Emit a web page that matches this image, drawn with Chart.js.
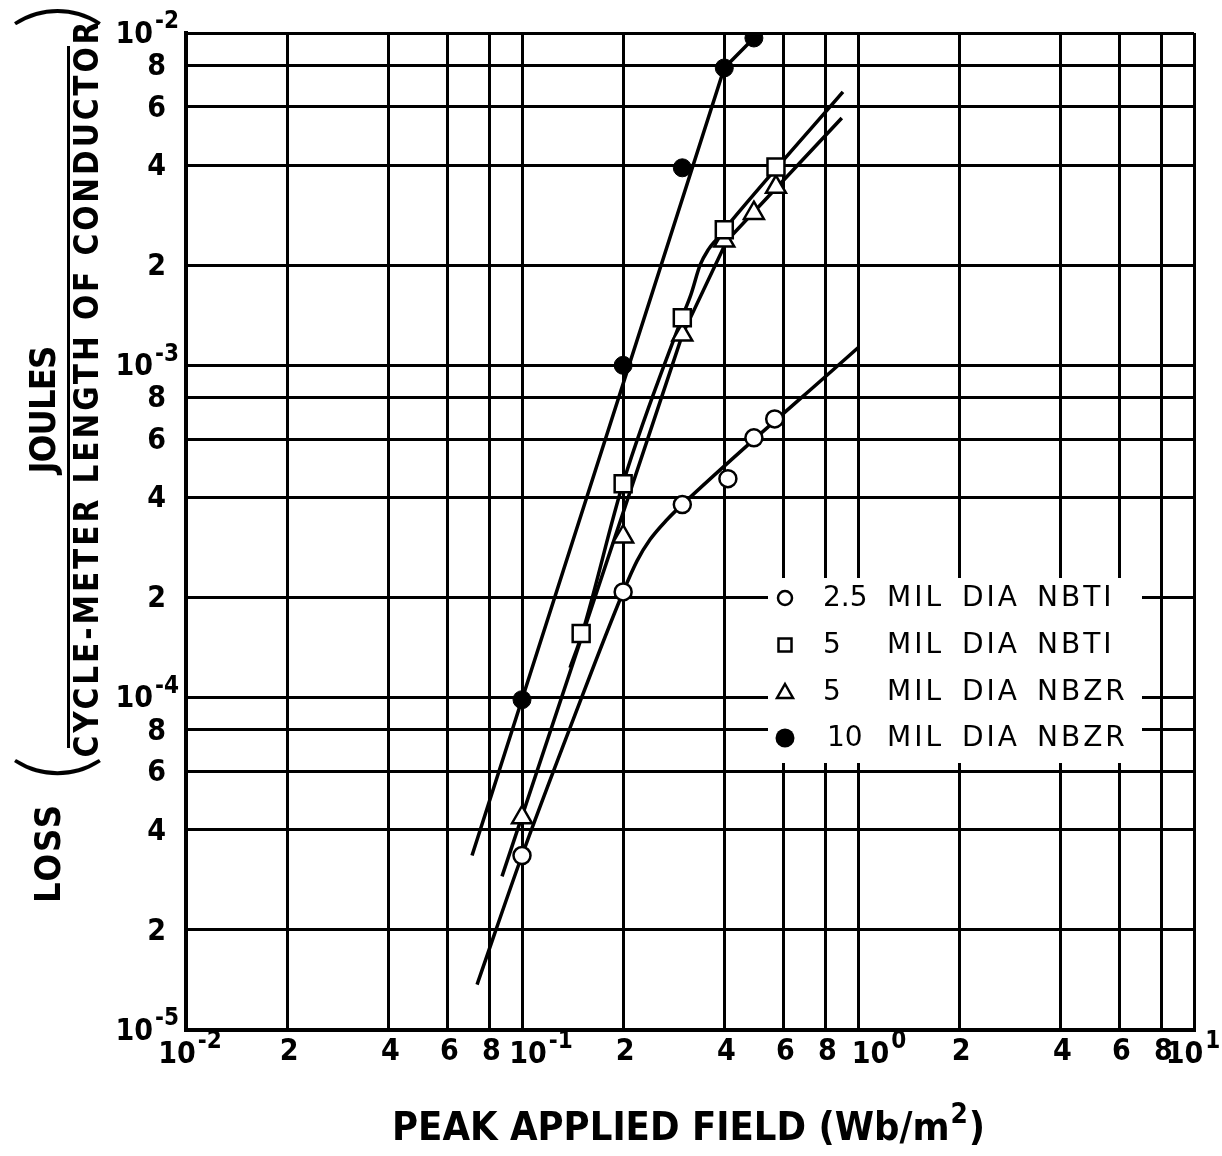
<!doctype html>
<html lang="en">
<head>
    <meta charset="utf-8">
    <title>Loss vs Peak Applied Field</title>
    <script src="https://cdn.jsdelivr.net/npm/chart.js"></script>
    <style>
        html, body { margin: 0; padding: 0; background: #fff; }
    </style>
</head>
<body>
<canvas id="lossChart" width="1222" height="1156"></canvas>
<script>
    var nbti25X = [0.1, 0.2, 0.3, 0.41, 0.49, 0.565];
    var nbti25Y = [3.35e-5, 2.08e-4, 3.81e-4, 4.56e-4, 6.05e-4, 6.9e-4];
    var nbti5X = [0.15, 0.2, 0.3, 0.4, 0.57];
    var nbti5Y = [1.56e-4, 4.4e-4, 1.39e-3, 2.56e-3, 3.95e-3];
    var nbzr5X = [0.1, 0.2, 0.3, 0.4, 0.49, 0.57];
    var nbzr5Y = [4.36e-5, 3.05e-4, 1.235e-3, 2.37e-3, 2.87e-3, 3.44e-3];
    var nbzr10X = [0.1, 0.2, 0.3, 0.4, 0.49];
    var nbzr10Y = [9.86e-5, 1e-3, 3.93e-3, 7.85e-3, 9.66e-3];

    // hand drawn curves through the points
    var curve25X = [0.0735, 0.1, 0.142, 0.2, 0.22, 0.2405, 0.27, 0.3, 1.0];
    var curve25Y = [1.37e-5, 3.35e-5, 8.59e-5, 2.08e-4, 2.58e-4, 2.99e-4, 3.43e-4, 3.81e-4, 1.13e-3];
    var curveNbti5X = [0.139, 0.151, 0.2, 0.3, 0.318, 0.339, 0.358, 0.38, 0.399, 0.902];
    var curveNbti5Y = [1.23e-4, 1.56e-4, 4.43e-4, 1.40e-3, 1.63e-3, 2.005e-3, 2.225e-3, 2.4e-3, 2.555e-3, 6.65e-3];
    var curveNbzr5X = [0.0872, 0.3, 0.407, 0.895];
    var curveNbzr5Y = [2.9e-5, 1.235e-3, 2.37e-3, 5.55e-3];
    var curveNbzr10X = [0.071, 0.4, 0.49];
    var curveNbzr10Y = [3.35e-5, 7.85e-3, 9.66e-3];

    // grid / tick values and labels ([base, superscript])
    var xTicks = [0.01, 0.02, 0.04, 0.06, 0.08, 0.1, 0.2, 0.4, 0.6, 0.8, 1, 2, 4, 6, 8, 10];
    var xLabels = [['10', '-2'], ['2'], ['4'], ['6'], ['8'], ['10', '-1'], ['2'], ['4'], ['6'], ['8'],
        ['10', '0'], ['2'], ['4'], ['6'], ['8'], ['10', '1']];
    var yTicks = [1e-5, 2e-5, 4e-5, 6e-5, 8e-5, 1e-4, 2e-4, 4e-4, 6e-4, 8e-4, 1e-3, 2e-3, 4e-3, 6e-3, 8e-3, 1e-2];
    var yLabels = [['10', '-5'], ['2'], ['4'], ['6'], ['8'], ['10', '-4'], ['2'], ['4'], ['6'], ['8'],
        ['10', '-3'], ['2'], ['4'], ['6'], ['8'], ['10', '-2']];

    var seriesNames = ['2.5 MIL DIA NBTI', '5 MIL DIA NBTI', '5 MIL DIA NBZR', '10 MIL DIA NBZR'];
    var xTitle = 'PEAK APPLIED FIELD (Wb/m';
    var yTitleTop = 'JOULES';
    var yTitleBottom = 'CYCLE-METER LENGTH OF CONDUCTOR';
    var yTitleLoss = 'LOSS';

    function pts(xs, ys) {
        return xs.map(function (x, i) { return {x: x, y: ys[i]}; });
    }

    var FAM = '"DejaVu Sans Condensed", "DejaVu Sans", sans-serif';
    var BOLD = 'bold 30px ' + FAM;
    var SUP = 'bold 24px ' + FAM;

    function drawPow(ctx, lab, x, y, align) {
        ctx.font = BOLD;
        var wb = ctx.measureText(lab[0]).width;
        var ws = 0;
        if (lab[1]) {
            ctx.font = SUP;
            ws = ctx.measureText(lab[1]).width + 2;
        }
        var left = x - wb - ws;
        if (align === 'center') left = x - (wb + ws) / 2;
        if (align === 'left') left = x;
        ctx.textAlign = 'left';
        ctx.textBaseline = 'middle';
        ctx.font = BOLD;
        ctx.fillText(lab[0], left, y);
        if (lab[1]) {
            ctx.font = SUP;
            ctx.fillText(lab[1], left + wb + 2, y - 13);
        }
    }

    var textPlugin = {
        id: 'paperText',
        afterDraw: function (chart) {
            var ctx = chart.ctx;
            var xs = chart.scales.x, ys = chart.scales.y;
            ctx.save();
            ctx.fillStyle = '#000';

            // x tick labels
            var decShift = {0.01: 4, 0.1: 19, 1: 21, 10: -1};
            xTicks.forEach(function (v, i) {
                var px = xs.getPixelForValue(v);
                var lab = xLabels[i];
                if (lab[1]) {
                    drawPow(ctx, lab, px + decShift[v], 1055, 'center');
                } else {
                    drawPow(ctx, lab, px + 2, 1052, 'center');
                }
            });
            // y tick labels
            yTicks.forEach(function (v, i) {
                var py = ys.getPixelForValue(v);
                var lab = yLabels[i];
                if (lab[1]) {
                    drawPow(ctx, lab, 179, py + 2, 'right');
                } else {
                    drawPow(ctx, lab, 166, py + 2, 'right');
                }
            });

            // x title
            var f = 40;
            ctx.font = 'bold ' + f + 'px ' + FAM;
            var w1 = ctx.measureText(xTitle).width;
            ctx.font = 'bold ' + Math.round(f * 0.7) + 'px ' + FAM;
            var w2 = ctx.measureText('2').width;
            ctx.font = 'bold ' + f + 'px ' + FAM;
            var w3 = ctx.measureText(')').width;
            var k = 593 / (w1 + w2 + w3 + 2);
            f = f * k;
            var big = 'bold ' + f.toFixed(1) + 'px ' + FAM;
            var small = 'bold ' + (f * 0.7).toFixed(1) + 'px ' + FAM;
            ctx.textAlign = 'left';
            ctx.textBaseline = 'alphabetic';
            var xl = 392, base = 1140;
            ctx.font = big;
            ctx.fillText(xTitle, xl, base);
            xl += w1 * k;
            ctx.font = small;
            ctx.fillText('2', xl + 1, base - f * 0.42);
            xl += w2 * k + 2;
            ctx.font = big;
            ctx.fillText(')', xl, base);

            // y title, rotated: (u, v) -> screen (v, -u)
            ctx.save();
            ctx.rotate(-Math.PI / 2);
            ctx.textAlign = 'center';
            ctx.textBaseline = 'middle';
            ctx.font = 'bold 36px ' + FAM;
            ctx.letterSpacing = '2px';
            ctx.fillText(yTitleLoss, -853, 51);
            ctx.font = 'bold 36px ' + FAM;
            var wj = ctx.measureText(yTitleTop).width;
            ctx.letterSpacing = ((140 - wj) / 5).toFixed(1) + 'px';
            ctx.fillText(yTitleTop, -410, 46);
            ctx.letterSpacing = '0px';
            ctx.font = 'bold 33px ' + FAM;
            var wb = ctx.measureText(yTitleBottom).width;
            ctx.letterSpacing = Math.max(0, (735 - wb) / 30).toFixed(1) + 'px';
            ctx.fillText(yTitleBottom, -388, 89);
            ctx.letterSpacing = '0px';
            ctx.fillRect(-748, 67, 702, 3);
            ctx.font = '300 96px Lato, "DejaVu Sans", sans-serif';
            ctx.fillText('(', -768, 57);
            ctx.fillText(')', -16, 57);
            ctx.restore();

            // legend on a white patch that breaks the grid
            ctx.fillStyle = '#fff';
            ctx.fillRect(768, 578, 374, 185);
            var rowsY = [598, 645, 692, 738];
            var wordX = [823, 887, 962, 1037];
            ctx.fillStyle = '#000';
            ctx.strokeStyle = '#000';
            ctx.lineWidth = 2.5;
            rowsY.forEach(function (ry, i) {
                var mx = 785;
                ctx.beginPath();
                if (i === 0) {
                    ctx.arc(mx, ry, 7, 0, Math.PI * 2);
                    ctx.stroke();
                } else if (i === 1) {
                    ctx.strokeRect(mx - 6.5, ry - 6.5, 13, 13);
                } else if (i === 2) {
                    ctx.moveTo(mx, ry - 8);
                    ctx.lineTo(mx + 8, ry + 6);
                    ctx.lineTo(mx - 8, ry + 6);
                    ctx.closePath();
                    ctx.stroke();
                } else {
                    ctx.arc(mx, ry, 9.5, 0, Math.PI * 2);
                    ctx.fill();
                }
                var words = seriesNames[i].split(' ');
                ctx.font = '28px "DejaVu Sans", sans-serif';
                ctx.textAlign = 'left';
                ctx.textBaseline = 'middle';
                words.forEach(function (wd, j) {
                    ctx.letterSpacing = j === 0 ? '0px' : '3px';
                    ctx.fillText(wd, wordX[j] + (j === 0 && wd === '10' ? 4 : 0), ry + 1);
                });
                ctx.letterSpacing = '0px';
            });
            ctx.restore();
        }
    };

    var lineStyle = {
        showLine: true, pointRadius: 0, borderColor: '#000', borderWidth: 3.5,
        fill: false, order: 2
    };

    var ctx = document.getElementById('lossChart');
    var lossChart = new Chart(ctx, {
        type: 'scatter',
        data: {
            datasets: [
                {
                    label: seriesNames[0], data: pts(nbti25X, nbti25Y), order: 0,
                    pointStyle: 'circle', pointRadius: 8.5, backgroundColor: '#fff',
                    borderColor: '#000', borderWidth: 2.5
                },
                {
                    label: seriesNames[1], data: pts(nbti5X, nbti5Y), order: 0,
                    pointStyle: 'rect', pointRadius: 12, backgroundColor: '#fff',
                    borderColor: '#000', borderWidth: 2.5
                },
                {
                    label: seriesNames[2], data: pts(nbzr5X, nbzr5Y), order: 0,
                    pointStyle: 'triangle', pointRadius: 11.5, backgroundColor: '#fff',
                    borderColor: '#000', borderWidth: 2.5
                },
                {
                    label: seriesNames[3], data: pts(nbzr10X, nbzr10Y), order: 0,
                    pointStyle: 'circle', pointRadius: 9, backgroundColor: '#000',
                    borderColor: '#000', borderWidth: 1
                },
                Object.assign({label: 'curve 2.5 NBTI', data: pts(curve25X, curve25Y), cubicInterpolationMode: 'monotone'}, lineStyle),
                Object.assign({label: 'curve 5 NBTI', data: pts(curveNbti5X, curveNbti5Y), cubicInterpolationMode: 'monotone'}, lineStyle),
                Object.assign({label: 'curve 5 NBZR', data: pts(curveNbzr5X, curveNbzr5Y), tension: 0}, lineStyle),
                Object.assign({label: 'curve 10 NBZR', data: pts(curveNbzr10X, curveNbzr10Y), tension: 0}, lineStyle)
            ]
        },
        options: {
            responsive: false,
            animation: false,
            layout: {padding: {left: 186, right: 28, top: 33, bottom: 126}},
            scales: {
                x: {
                    type: 'logarithmic', min: 0.01, max: 10,
                    afterBuildTicks: function (scale) {
                        scale.ticks = xTicks.map(function (v) { return {value: v}; });
                    },
                    ticks: {display: false},
                    grid: {color: '#000', lineWidth: 3, drawTicks: false},
                    border: {display: true, color: '#000', width: 4}
                },
                y: {
                    type: 'logarithmic', min: 1e-5, max: 1e-2,
                    afterBuildTicks: function (scale) {
                        scale.ticks = yTicks.map(function (v) { return {value: v}; });
                    },
                    ticks: {display: false},
                    grid: {color: '#000', lineWidth: 3, drawTicks: false},
                    border: {display: true, color: '#000', width: 4}
                }
            },
            plugins: {
                legend: {display: false},
                tooltip: {enabled: false}
            }
        },
        plugins: [textPlugin]
    });
</script>
</body>
</html>
